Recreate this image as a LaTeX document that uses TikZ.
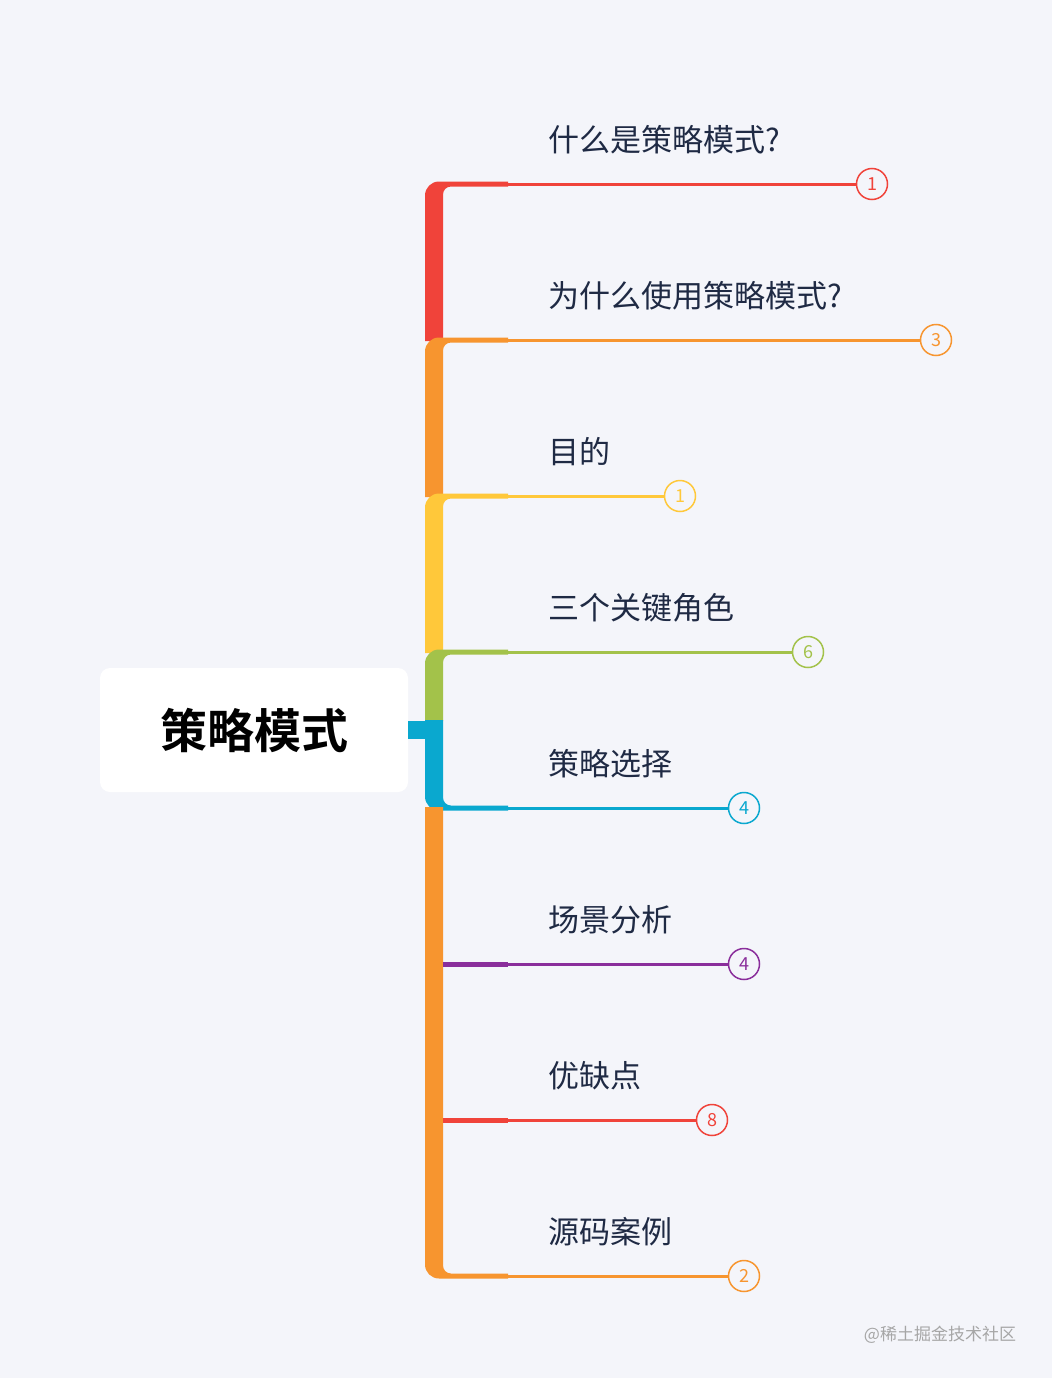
\documentclass[tikz,border=0pt]{standalone}
\usepackage{fontspec}
\setmainfont{Noto Sans CJK SC}
\newfontfamily\cjkb{Noto Sans CJK SC Bold}
\definecolor{bg}{HTML}{F4F5FA}
\definecolor{cR}{HTML}{F0433A}
\definecolor{cO}{HTML}{F7952F}
\definecolor{cY}{HTML}{FFC83A}
\definecolor{cG}{HTML}{A3C24A}
\definecolor{cB}{HTML}{0AA8CF}
\definecolor{cP}{HTML}{8A2E9B}
\definecolor{txt}{HTML}{1F2A44}
\begin{document}
\begin{tikzpicture}[x=1pt,y=-1pt,
  lbl/.style={anchor=west,text=txt,font=\fontsize{31}{34}\selectfont,inner sep=0},
  num/.style={circle,draw=#1,fill=bg,line width=1.5,minimum size=31,inner sep=0,text=#1,font=\fontsize{18}{18}\selectfont}]
\useasboundingbox (0,0) rectangle (1052,1378);
\fill[bg] (0,0) rectangle (1052,1378);
% root
\node[fill=white,rounded corners=10,minimum width=308,minimum height=124,font=\cjkb\fontsize{47}{50}\selectfont,text=black] (root) at (254,730) {策略模式};
\fill[cB] (408,721) rectangle (426,739);
% trunk pieces
\newcommand\topseg[3]{\fill[#1] (425,#3) [rounded corners=14] -- (425,#2-2.5) [sharp corners] -- (508,#2-2.5) -- (508,#2+2.5) [rounded corners=8] -- (443,#2+2.5) [sharp corners] -- (443,#3) -- cycle;}
\newcommand\botseg[3]{\fill[#1] (425,#2) [rounded corners=14] -- (425,#3+2.5) [sharp corners] -- (508,#3+2.5) -- (508,#3-2.5) [rounded corners=8] -- (443,#3-2.5) [sharp corners] -- (443,#2) -- cycle;}
\topseg{cR}{184}{341}
\topseg{cO}{340}{497}
\topseg{cY}{496}{653}
\topseg{cG}{652}{721}
\botseg{cB}{720}{808}
\botseg{cO}{807}{1276}
\fill[cP] (443,961.5) rectangle (508,966.5);
\fill[cR] (443,1117.5) rectangle (508,1122.5);
% branches
\foreach \y/\x/\c/\n/\t/\id in {
 184/872/cR/1/什么是策略模式?/a,
 340/936/cO/3/为什么使用策略模式?/b,
 496/680/cY/1/目的/c,
 652/808/cG/6/三个关键角色/d,
 808/744/cB/4/策略选择/e,
 964/744/cP/4/场景分析/f,
 1120/712/cR/8/优缺点/g,
 1276/744/cO/2/源码案例/h}{
  \node[num=\c] (n\id) at (\x,\y) {\n};
  \coordinate (s\id) at (508,\y);
  \draw[\c,line width=3] (s\id) -- (n\id);
  \node[lbl] (l\id) at (548,\y-44) {\t};
}
\node[text=gray!70,font=\fontsize{17}{17}\selectfont] (wm) at (940,1335) {@稀土掘金技术社区};
\end{tikzpicture}
\end{document}
